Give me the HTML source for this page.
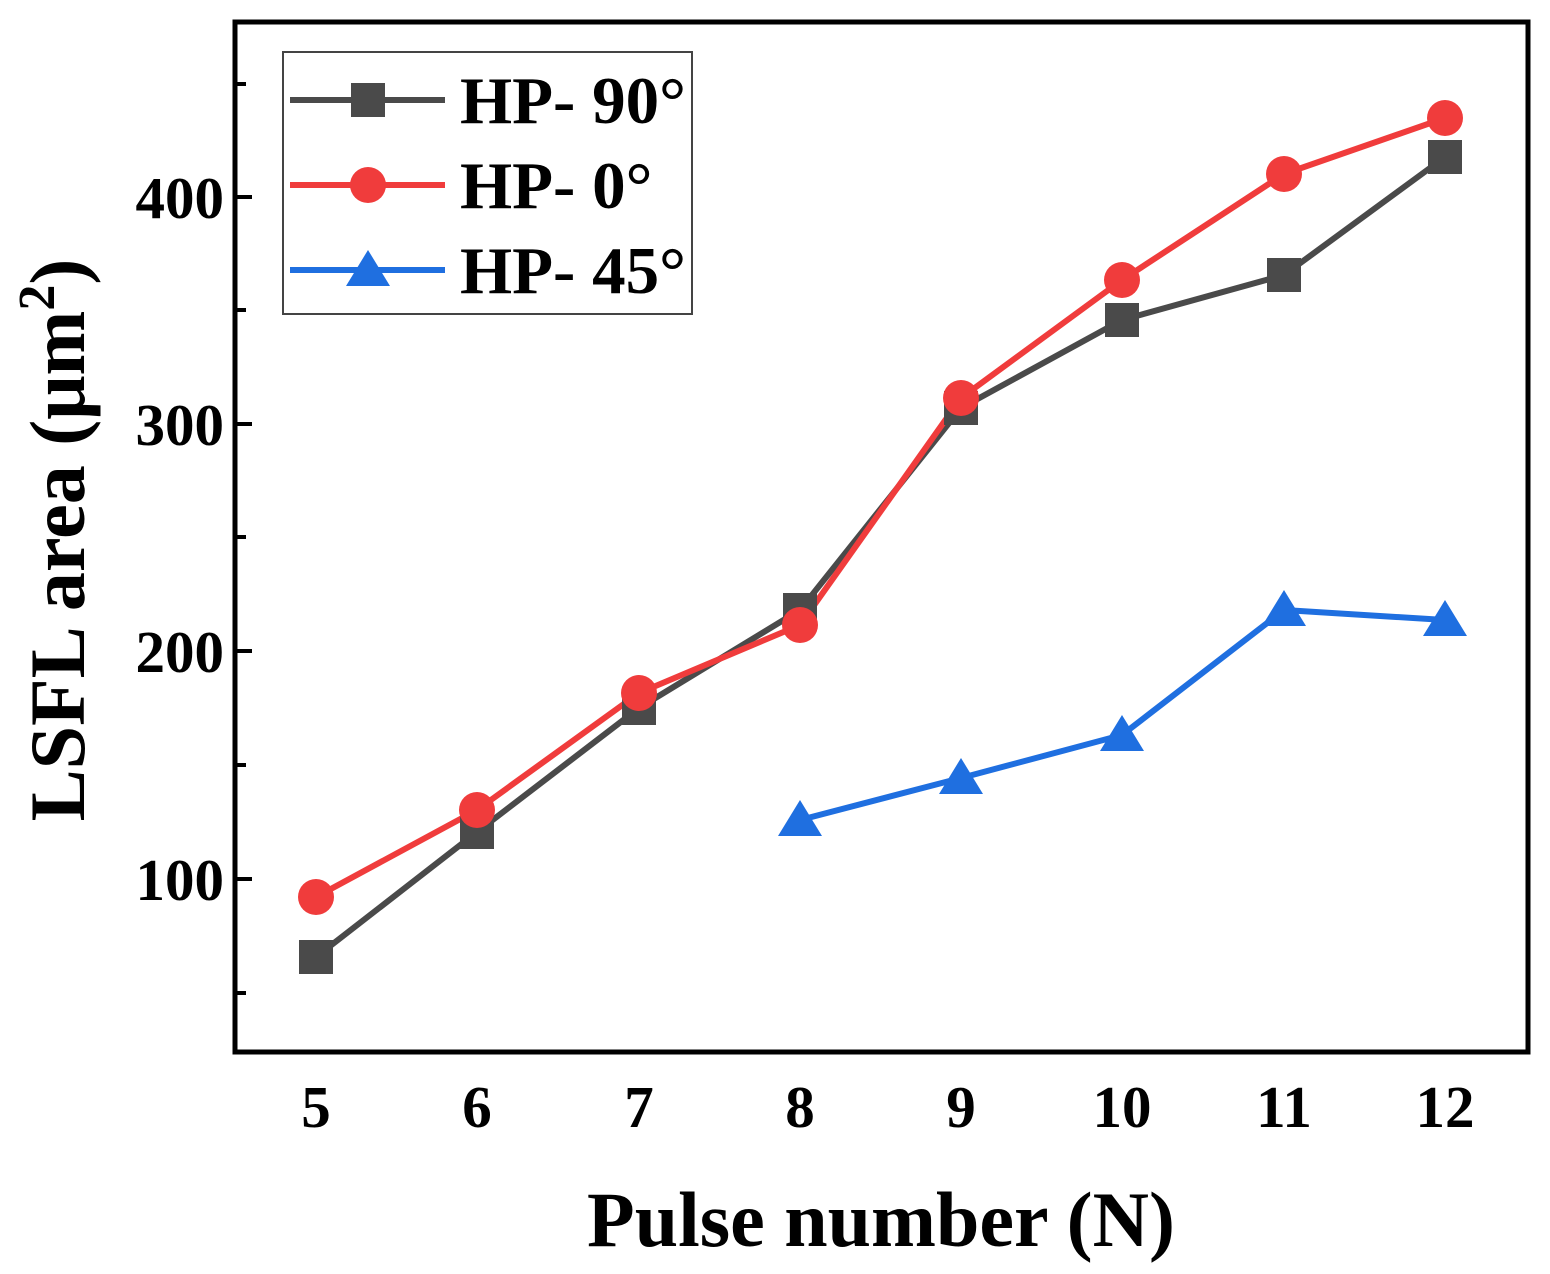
<!DOCTYPE html>
<html><head><meta charset="utf-8"><style>body{margin:0;background:#fff}</style></head><body>
<svg width="1550" height="1269" viewBox="0 0 1550 1269" xmlns="http://www.w3.org/2000/svg" font-family="Liberation Serif, serif" font-weight="bold">
<rect x="235" y="22" width="1293" height="1030" fill="none" stroke="#000" stroke-width="5"/>
<g stroke="#000" stroke-width="4">
<line x1="237" y1="197" x2="252" y2="197"/><line x1="237" y1="424" x2="252" y2="424"/><line x1="237" y1="651" x2="252" y2="651"/><line x1="237" y1="879" x2="252" y2="879"/>
<line x1="237" y1="84" x2="246" y2="84"/><line x1="237" y1="310" x2="246" y2="310"/><line x1="237" y1="537" x2="246" y2="537"/><line x1="237" y1="765" x2="246" y2="765"/><line x1="237" y1="993" x2="246" y2="993"/>
</g>
<g font-size="59" text-anchor="end">
<text x="224" y="218">400</text><text x="224" y="445">300</text><text x="224" y="672">200</text><text x="224" y="900">100</text>
</g>
<g font-size="59" text-anchor="middle">
<text x="316" y="1127">5</text><text x="477" y="1127">6</text><text x="639" y="1127">7</text><text x="800" y="1127">8</text><text x="961" y="1127">9</text><text x="1122" y="1127">10</text><text x="1284" y="1127">11</text><text x="1445" y="1127">12</text>
</g>
<text x="881" y="1246" font-size="78" text-anchor="middle">Pulse number (N)</text>
<text transform="translate(84,540) rotate(-90)" font-size="78" text-anchor="middle">LSFL area (μm<tspan dy="-30" font-size="52">2</tspan><tspan dy="30">)</tspan></text>
<g fill="none" stroke-width="6" stroke-linejoin="round">
<polyline stroke="#4a4a4a" points="316,957 477,832 639,708 800,610 961,408 1122,320 1284,275 1445,157"/>
<polyline stroke="#f03c3c" points="316,897 477,810 639,693 800,625 961,398 1122,280 1284,174 1445,118"/>
<polyline stroke="#1f6fe0" points="800,820 961,778 1122,735 1284,610 1445,620"/>
</g>
<g fill="#4a4a4a">
<rect x="299" y="940" width="34" height="34"/><rect x="460" y="815" width="34" height="34"/><rect x="622" y="691" width="34" height="34"/><rect x="783" y="593" width="34" height="34"/><rect x="944" y="391" width="34" height="34"/><rect x="1105" y="303" width="34" height="34"/><rect x="1267" y="258" width="34" height="34"/><rect x="1428" y="140" width="34" height="34"/>
</g>
<g fill="#f03c3c">
<circle cx="316" cy="897" r="18"/><circle cx="477" cy="810" r="18"/><circle cx="639" cy="693" r="18"/><circle cx="800" cy="625" r="18"/><circle cx="961" cy="398" r="18"/><circle cx="1122" cy="280" r="18"/><circle cx="1284" cy="174" r="18"/><circle cx="1445" cy="118" r="18"/>
</g>
<g fill="#1f6fe0">
<polygon points="800,800 778,836 822,836"/><polygon points="961,758 939,794 983,794"/><polygon points="1122,715 1100,751 1144,751"/><polygon points="1284,590 1262,626 1306,626"/><polygon points="1445,600 1423,636 1467,636"/>
</g>
<rect x="283" y="52" width="409" height="262" fill="#fff" stroke="#444" stroke-width="2"/>
<line x1="290" y1="100" x2="445" y2="100" stroke="#4a4a4a" stroke-width="6"/><rect x="351" y="83" width="34" height="34" fill="#4a4a4a"/>
<line x1="290" y1="185" x2="445" y2="185" stroke="#f03c3c" stroke-width="6"/><circle cx="368" cy="185" r="18" fill="#f03c3c"/>
<line x1="290" y1="270" x2="445" y2="270" stroke="#1f6fe0" stroke-width="6"/><polygon points="368,250 346,286 390,286" fill="#1f6fe0"/>
<g font-size="67"><text x="460" y="123">HP- 90°</text><text x="460" y="208">HP- 0°</text><text x="460" y="293">HP- 45°</text></g>
</svg>
</body></html>
